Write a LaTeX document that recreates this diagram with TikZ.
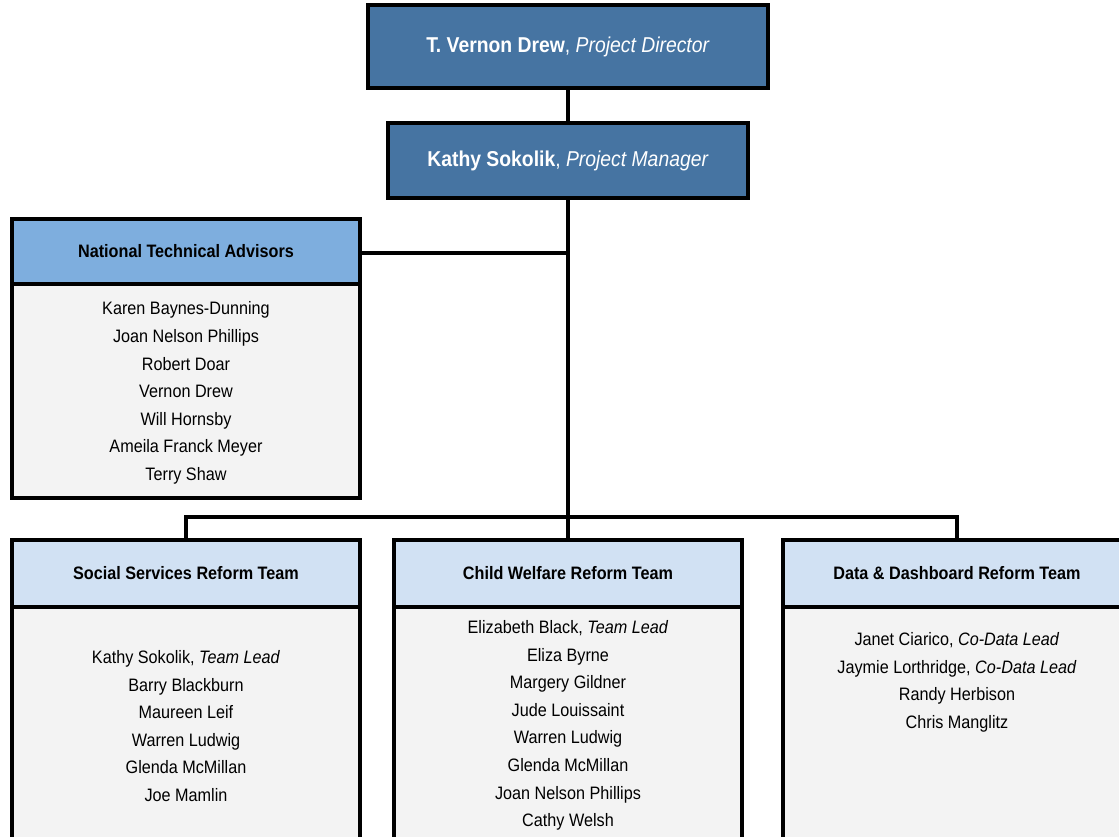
\documentclass[tikz,border=0pt]{standalone}
\usepackage{fontspec}
\setmainfont[FakeStretch=0.9]{Liberation Sans}
\definecolor{darkblue}{RGB}{70,116,162}
\definecolor{midblue}{RGB}{126,174,222}
\definecolor{paleblue}{RGB}{209,225,243}
\definecolor{bodygray}{RGB}{243,243,243}
\begin{document}
\begin{tikzpicture}[x=1pt,y=-1pt,
  every node/.style={inner sep=0pt, outer sep=0pt},
  topbox/.style={draw=black, line width=3.2pt, fill=darkblue, text=white, anchor=north west,
    font=\fontsize{21.5}{25}\selectfont},
  headbox/.style={draw=black, line width=3.2pt, anchor=north west,
    font=\fontsize{18}{22}\selectfont\bfseries},
  bodybox/.style={draw=black, line width=3.2pt, fill=bodygray, anchor=north west},
  listtext/.style={align=center, font=\fontsize{18}{27.6}\selectfont},
  conn/.style={line width=3.2pt, line cap=rect}]
\useasboundingbox (0,0) rectangle (1119,837);
\clip (0,0) rectangle (1119,837);
\fill[white] (0,0) rectangle (1119,837);

% top boxes
\node[topbox, minimum width=400, minimum height=83] (dir) at (368,5)
  {\textbf{T. Vernon Drew}, \textit{Project Director}};
\node[topbox, minimum width=360, minimum height=75] (pm) at (388,123)
  {\textbf{Kathy Sokolik}, \textit{Project Manager}};

% National Technical Advisors
\node[bodybox, minimum width=348, minimum height=214] (ntab) at (12,284) {};
\node[headbox, fill=midblue, minimum width=348, minimum height=65] (ntah) at (12,219)
  {National Technical Advisors};
\node[listtext] (ntal) at (186,393) {Karen Baynes-Dunning\\Joan Nelson Phillips\\Robert Doar\\Vernon Drew\\Will Hornsby\\Ameila Franck Meyer\\Terry Shaw};

% bottom teams
\node[bodybox, minimum width=348, minimum height=260] (ssb) at (12,607) {};
\node[headbox, fill=paleblue, minimum width=348, minimum height=67] (ssh) at (12,540)
  {Social Services Reform Team};
\node[listtext] (ssl) at (186,726) {Kathy Sokolik, \textit{Team Lead}\\Barry Blackburn\\Maureen Leif\\Warren Ludwig\\Glenda McMillan\\Joe Mamlin};

\node[bodybox, minimum width=348, minimum height=260] (cwb) at (394,607) {};
\node[headbox, fill=paleblue, minimum width=348, minimum height=67] (cwh) at (394,540)
  {Child Welfare Reform Team};
\node[listtext] (cwl) at (568,725.5) {Elizabeth Black, \textit{Team Lead}\\Eliza Byrne\\Margery Gildner\\Jude Louissaint\\Warren Ludwig\\Glenda McMillan\\Joan Nelson Phillips\\Cathy Welsh};

\node[bodybox, minimum width=348, minimum height=260] (ddb) at (783,607) {};
\node[headbox, fill=paleblue, minimum width=348, minimum height=67] (ddh) at (783,540)
  {Data \& Dashboard Reform Team};
\node[listtext] (ddl) at (957,682.5) {Janet Ciarico, \textit{Co-Data Lead}\\Jaymie Lorthridge, \textit{Co-Data Lead}\\Randy Herbison\\Chris Manglitz};

% connectors
\coordinate (bus) at (568,517);
\coordinate (nj) at (568,253);
\draw[conn] (dir.south) -- (pm.north);
\draw[conn] (pm.south) -- (cwh.north);
\draw[conn] (ntah.east |- nj) -- (nj);
\draw[conn] (ssh.north) -- (ssh.north |- bus) -- (ddh.north |- bus) -- (ddh.north);
\end{tikzpicture}
\end{document}
